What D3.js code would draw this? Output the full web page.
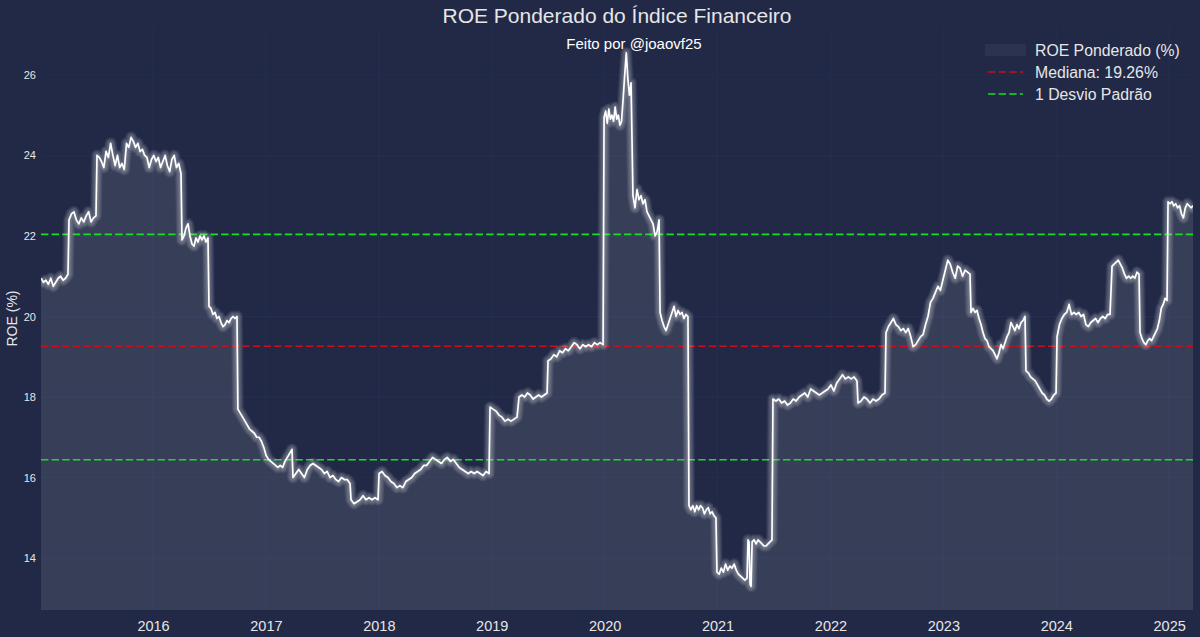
<!DOCTYPE html>
<html><head><meta charset="utf-8">
<script src="https://cdn.jsdelivr.net/npm/d3@7"></script>
<style>
body{margin:0;background:#212946;}
svg{display:block;font-family:"Liberation Sans",Arial,sans-serif;}
</style>
</head><body>
<svg id="c" width="1200" height="637"></svg>
<script>
// ---------------- DATA ----------------
const chartTitle = "ROE Ponderado do Índice Financeiro";
const subTitle = "Feito por @joaovf25";
const yLabel = "ROE (%)";
const legendLabels = ["ROE Ponderado (%)", "Mediana: 19.26%", "1 Desvio Padrão"];
const medianValue = 19.26;
const stdLines = [16.44, 22.04];
const xTickYears = [2016, 2017, 2018, 2019, 2020, 2021, 2022, 2023, 2024, 2025];
const yTickValues = [14, 16, 18, 20, 22, 24, 26];

// observation periods (decimal years) between quarterly updates, and readings inside each
const segStart = [2015.008, 2015.256, 2015.504, 2016.257, 2016.496, 2016.752, 2017.240, 2017.754, 2018.002, 2018.985,
  2019.242, 2019.499, 2019.995, 2020.251, 2020.491, 2020.747, 2020.995, 2021.270, 2021.288, 2021.306,
  2021.491, 2022.244, 2022.492, 2023.245, 2023.732, 2024.007, 2024.494, 2024.742, 2024.990];
const segEnd = [2015.247, 2015.495, 2016.248, 2016.487, 2016.744, 2017.231, 2017.745, 2017.993, 2018.976, 2019.224,
  2019.490, 2019.986, 2020.234, 2020.482, 2020.738, 2020.986, 2021.261, 2021.279, 2021.297, 2021.482,
  2022.235, 2022.483, 2023.236, 2023.723, 2023.998, 2024.476, 2024.733, 2024.981, 2025.211];
const segValues = [
  [20.95,20.85,20.9,20.8,20.95,20.75,20.85,20.95,21.0,20.9,20.95,21.05],
  [22.4,22.55,22.6,22.4,22.3,22.45,22.35,22.5,22.6,22.35,22.45,22.5],
  [24.0,23.95,23.85,23.7,24.1,23.95,24.3,24.0,23.75,24.0,23.7,23.8,23.65,24.3,24.2,24.45,24.35,24.2,24.3,24.1,24.15,24.0,23.95,23.7,23.9,24.0,23.85,23.95,23.7,23.85,24.0,23.75,23.6,23.9,24.0,23.7,23.8,23.55],
  [21.9,22.0,22.2,22.3,22.0,21.8,21.75,21.95,21.85,22.0,21.9,22.0,21.85,21.95],
  [20.25,20.2,20.05,20.1,19.95,20.0,19.85,19.75,19.8,19.9,19.85,19.95,20.0,19.95,20.0],
  [17.7,17.6,17.5,17.4,17.3,17.2,17.15,17.1,17.0,17.0,16.9,16.75,16.55,16.45,16.4,16.35,16.3,16.25,16.3,16.25,16.4,16.5,16.6,16.7],
  [16.0,16.1,16.2,16.1,16.0,16.2,16.3,16.35,16.3,16.25,16.2,16.1,16.15,16.0,16.05,15.95,15.9,16.0,15.95,15.95,15.85],
  [15.45,15.35,15.4,15.45,15.55,15.45,15.5,15.45,15.5,15.45],
  [16.1,16.15,16.05,16.0,15.9,15.85,15.75,15.8,15.75,15.9,15.95,16.0,16.1,16.15,16.2,16.3,16.3,16.4,16.5,16.45,16.4,16.35,16.45,16.5,16.4,16.45,16.35,16.25,16.2,16.15,16.1,16.15,16.1,16.15,16.1,16.05,16.15,16.1],
  [17.75,17.7,17.65,17.55,17.5,17.4,17.45,17.4,17.45,17.5],
  [18.0,18.05,18.0,18.1,18.05,17.95,18.0,18.05,18.0,18.05,18.1],
  [18.9,18.95,19.05,19.0,19.15,19.1,19.2,19.15,19.25,19.35,19.3,19.2,19.3,19.25,19.3,19.25,19.35,19.3,19.35,19.3],
  [24.95,25.1,24.8,25.15,24.9,25.0,24.85,25.2,24.9,25.0,24.75,24.85,25.4,26.0,26.55,25.9,25.5,25.8],
  [23.0,22.7,23.15,22.9,23.0,22.8,22.9,22.6,22.5,22.4,22.3,22.0,22.1,22.4],
  [20.1,19.9,19.75,19.65,19.8,19.95,20.1,20.25,20.0,20.15,20.05,20.1,19.95,20.05,20.0],
  [15.3,15.2,15.3,15.15,15.3,15.2,15.3,15.25,15.1,15.2,15.25,15.1,15.15,15.05,15.0],
  [13.65,13.6,13.75,13.65,13.85,13.7,13.8,13.75,13.85,13.7,13.6,13.55,13.5,13.45,13.5],
  [14.45,14.4],
  [13.35,13.3],
  [14.4,14.45,14.35,14.45,14.4,14.35,14.3,14.3,14.35,14.4,14.45],
  [17.95,17.9,17.95,17.85,17.9,17.8,17.85,17.95,17.9,18.0,18.05,18.1,18.0,18.2,18.15,18.1,18.05,18.1,18.15,18.2,18.3,18.15,18.35,18.45,18.55,18.45,18.5,18.45,18.5,18.4],
  [17.85,17.9,18.0,17.95,17.85,17.95,17.9,17.95,18.05,18.1],
  [19.6,19.75,19.85,19.95,19.8,19.75,19.65,19.7,19.6,19.7,19.5,19.25,19.3,19.4,19.5,19.55,19.8,20.0,20.35,20.45,20.6,20.75,20.65,20.9,21.15,21.4,21.3,21.1,20.95,21.25,21.2,21.0,21.15,21.1,21.05],
  [20.1,20.2,20.1,20.15,19.95,19.8,19.6,19.45,19.4,19.25,19.2,19.15,19.05,18.95,19.1,19.3,19.2,19.35,19.5,19.6,19.85,19.75,19.65,19.8,19.7,19.85,19.9,20.0],
  [18.65,18.6,18.5,18.45,18.4,18.3,18.2,18.1,18.05,17.95,17.9,17.95,18.05,18.1],
  [19.5,19.8,19.95,20.05,20.1,20.3,20.05,20.1,20.05,20.1,20.0,20.05,19.8,19.75,19.85,19.9,19.95,19.85,19.95,20.0,19.95,20.05,20.05],
  [21.25,21.3,21.35,21.4,21.3,21.2,21.05,20.95,21.0,20.95,21.0,20.95,21.1,21.05],
  [19.6,19.45,19.35,19.3,19.4,19.45,19.4,19.5,19.6,19.7,19.9,20.2,20.3,20.45,20.4],
  [22.85,22.8,22.85,22.75,22.8,22.7,22.75,22.55,22.45,22.7,22.8,22.75,22.7,22.75]
];

// ---------------- BUILD ----------------
const series = [];
segValues.forEach((vals, i) => {
  const n = vals.length;
  vals.forEach((v, j) => {
    const t = n > 1 ? segStart[i] + (segEnd[i] - segStart[i]) * j / (n - 1) : segStart[i];
    series.push({t, v});
  });
});

const W = 1200, H = 637;
const m = {left: 41, right: 1193, top: 27, bottom: 610};
const bg = "#212946", gridC = "#262e50", txt = "#e6e6e6";

const x = d3.scaleLinear().domain([2015.008, 2025.211]).range([m.left, m.right]);
const y = d3.scaleLinear().domain([12.71, 27.19]).range([m.bottom, m.top]);

const svg = d3.select("#c");
svg.append("rect").attr("width", W).attr("height", H).attr("fill", bg);

svg.append("defs").append("clipPath").attr("id", "clip")
  .append("rect").attr("x", m.left).attr("y", m.top)
  .attr("width", m.right - m.left).attr("height", m.bottom - m.top);

// grid
const grid = svg.append("g");
grid.selectAll(".gx").data(xTickYears).join("line")
  .attr("x1", d => x(d)).attr("x2", d => x(d)).attr("y1", m.top).attr("y2", m.bottom)
  .attr("stroke", gridC).attr("stroke-width", 1);
grid.selectAll(".gy").data(yTickValues).join("line")
  .attr("x1", m.left).attr("x2", m.right).attr("y1", d => y(d)).attr("y2", d => y(d))
  .attr("stroke", gridC).attr("stroke-width", 1);

const plot = svg.append("g").attr("clip-path", "url(#clip)");

// fill under line
const area = d3.area().x(d => x(d.t)).y0(m.bottom).y1(d => y(d.v));
plot.append("path").datum(series).attr("d", area)
  .attr("fill", "#ffffff").attr("fill-opacity", 0.1);

// reference lines
plot.append("line").attr("x1", m.left).attr("x2", m.right)
  .attr("y1", y(medianValue)).attr("y2", y(medianValue))
  .attr("stroke", "#c8101c").attr("stroke-width", 1.6).attr("stroke-dasharray", "7.4,3.2");
plot.selectAll(".sd").data(stdLines).join("line")
  .attr("x1", m.left).attr("x2", m.right)
  .attr("y1", d => y(d)).attr("y2", d => y(d))
  .attr("stroke", "#14e01e").attr("stroke-width", 1.6).attr("stroke-dasharray", "7.4,3.2");

// glow + line
const line = d3.line().x(d => x(d.t)).y(d => y(d.v));
for (let i = 10; i >= 1; i--) {
  plot.append("path").datum(series).attr("d", line)
    .attr("fill", "none").attr("stroke", "#ffffff")
    .attr("stroke-width", 1.8 + 1.05 * i).attr("stroke-opacity", 0.04)
    .attr("stroke-linejoin", "round");
}
plot.append("path").datum(series).attr("d", line)
  .attr("fill", "none").attr("stroke", "#ffffff").attr("stroke-width", 1.7)
  .attr("stroke-linejoin", "round");

// axes
const xAxis = svg.append("g").attr("transform", `translate(0,${m.bottom})`)
  .call(d3.axisBottom(x).tickValues(xTickYears).tickFormat(d3.format("d")).tickSize(0).tickPadding(11));
xAxis.select(".domain").remove();
xAxis.selectAll("text").attr("fill", txt).attr("font-size", 14.5).attr("font-family", "Liberation Sans, Arial, sans-serif");

const yAxis = svg.append("g").attr("transform", `translate(${m.left},0)`)
  .call(d3.axisLeft(y).tickValues(yTickValues).tickFormat(d3.format("d")).tickSize(0).tickPadding(5));
yAxis.select(".domain").remove();
yAxis.selectAll("text").attr("fill", txt).attr("font-size", 11).attr("font-family", "Liberation Sans, Arial, sans-serif");

svg.append("text").attr("transform", `translate(17,${(m.top + m.bottom) / 2}) rotate(-90)`)
  .attr("text-anchor", "middle").attr("fill", txt).attr("font-size", 14).text(yLabel);

// titles
svg.append("text").attr("x", (m.left + m.right) / 2).attr("y", 23)
  .attr("text-anchor", "middle").attr("fill", txt).attr("font-size", 21).text(chartTitle);
svg.append("text").attr("x", 634).attr("y", 49)
  .attr("text-anchor", "middle").attr("fill", "#ffffff").attr("font-size", 15).text(subTitle);

// legend
const lg = svg.append("g").attr("transform", "translate(985,50)");
const rowH = 22;
lg.append("rect").attr("x", 0).attr("y", -6).attr("width", 41).attr("height", 12)
  .attr("fill", "#ffffff").attr("fill-opacity", 0.05);
lg.append("line").attr("x1", 3).attr("x2", 38).attr("y1", rowH).attr("y2", rowH)
  .attr("stroke", "#c8101c").attr("stroke-width", 1.6).attr("stroke-dasharray", "7.4,3.2");
lg.append("line").attr("x1", 3).attr("x2", 38).attr("y1", rowH * 2).attr("y2", rowH * 2)
  .attr("stroke", "#14e01e").attr("stroke-width", 1.6).attr("stroke-dasharray", "7.4,3.2");
lg.selectAll(".lt").data(legendLabels).join("text")
  .attr("x", 50).attr("y", (d, i) => i * rowH + 5.5)
  .attr("fill", txt).attr("font-size", 15.8).text(d => d);
</script>
</body></html>
